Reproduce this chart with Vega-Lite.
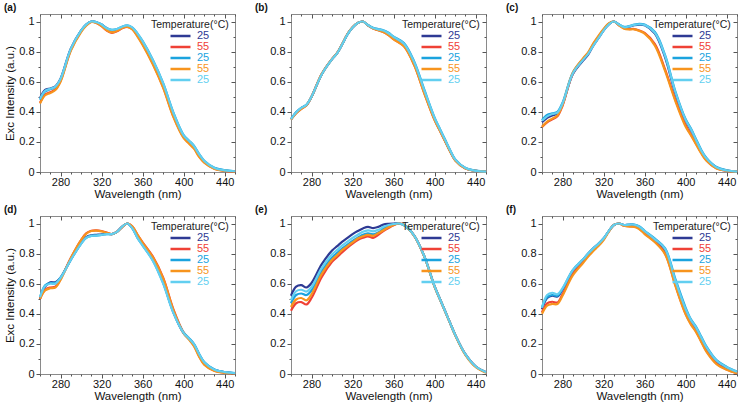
{
"$schema":"https://vega.github.io/schema/vega-lite/v6.json",
"padding":{"left":3,"top":2,"right":2,"bottom":2},
"datasets":{
"a":[
{"s":1,"x":260,"y":0.49},{"s":1,"x":265,"y":0.545},{"s":1,"x":270,"y":0.555},{"s":1,"x":275,"y":0.57},{"s":1,"x":280,"y":0.62},{"s":1,"x":290,"y":0.82},{"s":1,"x":300,"y":0.94},{"s":1,"x":305,"y":0.98},{"s":1,"x":310,"y":1.0},{"s":1,"x":315,"y":0.995},{"s":1,"x":320,"y":0.98},{"s":1,"x":325,"y":0.955},{"s":1,"x":330,"y":0.94},{"s":1,"x":335,"y":0.945},{"s":1,"x":340,"y":0.96},{"s":1,"x":345,"y":0.97},{"s":1,"x":350,"y":0.955},{"s":1,"x":355,"y":0.91},{"s":1,"x":360,"y":0.855},{"s":1,"x":370,"y":0.73},{"s":1,"x":380,"y":0.575},{"s":1,"x":390,"y":0.38},{"s":1,"x":400,"y":0.235},{"s":1,"x":405,"y":0.2},{"s":1,"x":410,"y":0.165},{"s":1,"x":415,"y":0.11},{"s":1,"x":420,"y":0.07},{"s":1,"x":430,"y":0.025},{"s":1,"x":440,"y":0.01},{"s":1,"x":450,"y":0.004},
{"s":2,"x":260,"y":0.46},{"s":2,"x":265,"y":0.515},{"s":2,"x":270,"y":0.53},{"s":2,"x":275,"y":0.55},{"s":2,"x":280,"y":0.605},{"s":2,"x":290,"y":0.81},{"s":2,"x":300,"y":0.935},{"s":2,"x":305,"y":0.975},{"s":2,"x":310,"y":0.998},{"s":2,"x":315,"y":0.99},{"s":2,"x":320,"y":0.97},{"s":2,"x":325,"y":0.94},{"s":2,"x":330,"y":0.925},{"s":2,"x":335,"y":0.935},{"s":2,"x":340,"y":0.955},{"s":2,"x":345,"y":0.965},{"s":2,"x":350,"y":0.95},{"s":2,"x":355,"y":0.905},{"s":2,"x":360,"y":0.85},{"s":2,"x":370,"y":0.72},{"s":2,"x":380,"y":0.565},{"s":2,"x":390,"y":0.37},{"s":2,"x":400,"y":0.23},{"s":2,"x":405,"y":0.195},{"s":2,"x":410,"y":0.16},{"s":2,"x":415,"y":0.105},{"s":2,"x":420,"y":0.065},{"s":2,"x":430,"y":0.022},{"s":2,"x":440,"y":0.008},{"s":2,"x":450,"y":0.003},
{"s":3,"x":260,"y":0.48},{"s":3,"x":265,"y":0.535},{"s":3,"x":270,"y":0.55},{"s":3,"x":275,"y":0.565},{"s":3,"x":280,"y":0.615},{"s":3,"x":290,"y":0.815},{"s":3,"x":300,"y":0.94},{"s":3,"x":305,"y":0.98},{"s":3,"x":310,"y":1.0},{"s":3,"x":315,"y":0.995},{"s":3,"x":320,"y":0.98},{"s":3,"x":325,"y":0.955},{"s":3,"x":330,"y":0.945},{"s":3,"x":335,"y":0.95},{"s":3,"x":340,"y":0.965},{"s":3,"x":345,"y":0.975},{"s":3,"x":350,"y":0.96},{"s":3,"x":355,"y":0.92},{"s":3,"x":360,"y":0.87},{"s":3,"x":370,"y":0.745},{"s":3,"x":380,"y":0.59},{"s":3,"x":390,"y":0.395},{"s":3,"x":400,"y":0.245},{"s":3,"x":405,"y":0.21},{"s":3,"x":410,"y":0.175},{"s":3,"x":415,"y":0.12},{"s":3,"x":420,"y":0.075},{"s":3,"x":430,"y":0.028},{"s":3,"x":440,"y":0.012},{"s":3,"x":450,"y":0.005},
{"s":4,"x":260,"y":0.455},{"s":4,"x":265,"y":0.51},{"s":4,"x":270,"y":0.525},{"s":4,"x":275,"y":0.545},{"s":4,"x":280,"y":0.6},{"s":4,"x":290,"y":0.805},{"s":4,"x":300,"y":0.93},{"s":4,"x":305,"y":0.972},{"s":4,"x":310,"y":0.997},{"s":4,"x":315,"y":0.99},{"s":4,"x":320,"y":0.97},{"s":4,"x":325,"y":0.942},{"s":4,"x":330,"y":0.928},{"s":4,"x":335,"y":0.938},{"s":4,"x":340,"y":0.957},{"s":4,"x":345,"y":0.965},{"s":4,"x":350,"y":0.948},{"s":4,"x":355,"y":0.9},{"s":4,"x":360,"y":0.845},{"s":4,"x":370,"y":0.715},{"s":4,"x":380,"y":0.56},{"s":4,"x":390,"y":0.365},{"s":4,"x":400,"y":0.225},{"s":4,"x":405,"y":0.19},{"s":4,"x":410,"y":0.155},{"s":4,"x":415,"y":0.1},{"s":4,"x":420,"y":0.062},{"s":4,"x":430,"y":0.02},{"s":4,"x":440,"y":0.007},{"s":4,"x":450,"y":0.003},
{"s":5,"x":260,"y":0.485},{"s":5,"x":265,"y":0.54},{"s":5,"x":270,"y":0.553},{"s":5,"x":275,"y":0.568},{"s":5,"x":280,"y":0.618},{"s":5,"x":290,"y":0.818},{"s":5,"x":300,"y":0.94},{"s":5,"x":305,"y":0.98},{"s":5,"x":310,"y":1.0},{"s":5,"x":315,"y":0.995},{"s":5,"x":320,"y":0.98},{"s":5,"x":325,"y":0.955},{"s":5,"x":330,"y":0.944},{"s":5,"x":335,"y":0.95},{"s":5,"x":340,"y":0.965},{"s":5,"x":345,"y":0.975},{"s":5,"x":350,"y":0.96},{"s":5,"x":355,"y":0.92},{"s":5,"x":360,"y":0.868},{"s":5,"x":370,"y":0.742},{"s":5,"x":380,"y":0.588},{"s":5,"x":390,"y":0.392},{"s":5,"x":400,"y":0.242},{"s":5,"x":405,"y":0.208},{"s":5,"x":410,"y":0.172},{"s":5,"x":415,"y":0.118},{"s":5,"x":420,"y":0.074},{"s":5,"x":430,"y":0.027},{"s":5,"x":440,"y":0.011},{"s":5,"x":450,"y":0.005}
],
"b":[
{"s":1,"x":260,"y":0.35},{"s":1,"x":265,"y":0.395},{"s":1,"x":270,"y":0.425},{"s":1,"x":275,"y":0.445},{"s":1,"x":280,"y":0.5},{"s":1,"x":290,"y":0.65},{"s":1,"x":300,"y":0.75},{"s":1,"x":305,"y":0.79},{"s":1,"x":310,"y":0.85},{"s":1,"x":315,"y":0.915},{"s":1,"x":320,"y":0.96},{"s":1,"x":325,"y":0.99},{"s":1,"x":330,"y":1.0},{"s":1,"x":335,"y":0.975},{"s":1,"x":340,"y":0.955},{"s":1,"x":345,"y":0.945},{"s":1,"x":350,"y":0.935},{"s":1,"x":355,"y":0.915},{"s":1,"x":360,"y":0.89},{"s":1,"x":370,"y":0.845},{"s":1,"x":380,"y":0.72},{"s":1,"x":390,"y":0.53},{"s":1,"x":400,"y":0.35},{"s":1,"x":405,"y":0.28},{"s":1,"x":410,"y":0.21},{"s":1,"x":415,"y":0.14},{"s":1,"x":420,"y":0.08},{"s":1,"x":430,"y":0.025},{"s":1,"x":440,"y":0.008},{"s":1,"x":450,"y":0.002},
{"s":2,"x":260,"y":0.35},{"s":2,"x":265,"y":0.39},{"s":2,"x":270,"y":0.42},{"s":2,"x":275,"y":0.442},{"s":2,"x":280,"y":0.5},{"s":2,"x":290,"y":0.652},{"s":2,"x":300,"y":0.752},{"s":2,"x":305,"y":0.792},{"s":2,"x":310,"y":0.852},{"s":2,"x":315,"y":0.917},{"s":2,"x":320,"y":0.962},{"s":2,"x":325,"y":0.99},{"s":2,"x":330,"y":1.0},{"s":2,"x":335,"y":0.974},{"s":2,"x":340,"y":0.953},{"s":2,"x":345,"y":0.942},{"s":2,"x":350,"y":0.93},{"s":2,"x":355,"y":0.91},{"s":2,"x":360,"y":0.883},{"s":2,"x":370,"y":0.837},{"s":2,"x":380,"y":0.712},{"s":2,"x":390,"y":0.522},{"s":2,"x":400,"y":0.345},{"s":2,"x":405,"y":0.276},{"s":2,"x":410,"y":0.207},{"s":2,"x":415,"y":0.138},{"s":2,"x":420,"y":0.078},{"s":2,"x":430,"y":0.024},{"s":2,"x":440,"y":0.007},{"s":2,"x":450,"y":0.002},
{"s":3,"x":260,"y":0.352},{"s":3,"x":265,"y":0.397},{"s":3,"x":270,"y":0.426},{"s":3,"x":275,"y":0.446},{"s":3,"x":280,"y":0.5},{"s":3,"x":290,"y":0.65},{"s":3,"x":300,"y":0.75},{"s":3,"x":305,"y":0.79},{"s":3,"x":310,"y":0.85},{"s":3,"x":315,"y":0.915},{"s":3,"x":320,"y":0.96},{"s":3,"x":325,"y":0.99},{"s":3,"x":330,"y":1.0},{"s":3,"x":335,"y":0.977},{"s":3,"x":340,"y":0.958},{"s":3,"x":345,"y":0.95},{"s":3,"x":350,"y":0.942},{"s":3,"x":355,"y":0.925},{"s":3,"x":360,"y":0.9},{"s":3,"x":370,"y":0.857},{"s":3,"x":380,"y":0.735},{"s":3,"x":390,"y":0.545},{"s":3,"x":400,"y":0.36},{"s":3,"x":405,"y":0.288},{"s":3,"x":410,"y":0.217},{"s":3,"x":415,"y":0.146},{"s":3,"x":420,"y":0.084},{"s":3,"x":430,"y":0.027},{"s":3,"x":440,"y":0.009},{"s":3,"x":450,"y":0.002},
{"s":4,"x":260,"y":0.348},{"s":4,"x":265,"y":0.39},{"s":4,"x":270,"y":0.42},{"s":4,"x":275,"y":0.443},{"s":4,"x":280,"y":0.5},{"s":4,"x":290,"y":0.652},{"s":4,"x":300,"y":0.752},{"s":4,"x":305,"y":0.792},{"s":4,"x":310,"y":0.852},{"s":4,"x":315,"y":0.917},{"s":4,"x":320,"y":0.962},{"s":4,"x":325,"y":0.99},{"s":4,"x":330,"y":1.0},{"s":4,"x":335,"y":0.974},{"s":4,"x":340,"y":0.953},{"s":4,"x":345,"y":0.942},{"s":4,"x":350,"y":0.93},{"s":4,"x":355,"y":0.91},{"s":4,"x":360,"y":0.882},{"s":4,"x":370,"y":0.835},{"s":4,"x":380,"y":0.71},{"s":4,"x":390,"y":0.52},{"s":4,"x":400,"y":0.343},{"s":4,"x":405,"y":0.275},{"s":4,"x":410,"y":0.206},{"s":4,"x":415,"y":0.137},{"s":4,"x":420,"y":0.077},{"s":4,"x":430,"y":0.023},{"s":4,"x":440,"y":0.007},{"s":4,"x":450,"y":0.002},
{"s":5,"x":260,"y":0.352},{"s":5,"x":265,"y":0.396},{"s":5,"x":270,"y":0.426},{"s":5,"x":275,"y":0.446},{"s":5,"x":280,"y":0.5},{"s":5,"x":290,"y":0.65},{"s":5,"x":300,"y":0.75},{"s":5,"x":305,"y":0.79},{"s":5,"x":310,"y":0.85},{"s":5,"x":315,"y":0.915},{"s":5,"x":320,"y":0.96},{"s":5,"x":325,"y":0.99},{"s":5,"x":330,"y":1.0},{"s":5,"x":335,"y":0.976},{"s":5,"x":340,"y":0.957},{"s":5,"x":345,"y":0.948},{"s":5,"x":350,"y":0.94},{"s":5,"x":355,"y":0.922},{"s":5,"x":360,"y":0.897},{"s":5,"x":370,"y":0.853},{"s":5,"x":380,"y":0.73},{"s":5,"x":390,"y":0.54},{"s":5,"x":400,"y":0.357},{"s":5,"x":405,"y":0.286},{"s":5,"x":410,"y":0.215},{"s":5,"x":415,"y":0.144},{"s":5,"x":420,"y":0.083},{"s":5,"x":430,"y":0.026},{"s":5,"x":440,"y":0.008},{"s":5,"x":450,"y":0.002}
],
"c":[
{"s":1,"x":260,"y":0.33},{"s":1,"x":265,"y":0.36},{"s":1,"x":270,"y":0.375},{"s":1,"x":275,"y":0.39},{"s":1,"x":280,"y":0.45},{"s":1,"x":290,"y":0.65},{"s":1,"x":300,"y":0.74},{"s":1,"x":305,"y":0.78},{"s":1,"x":310,"y":0.84},{"s":1,"x":315,"y":0.89},{"s":1,"x":320,"y":0.94},{"s":1,"x":325,"y":0.98},{"s":1,"x":330,"y":1.0},{"s":1,"x":335,"y":0.98},{"s":1,"x":340,"y":0.96},{"s":1,"x":345,"y":0.965},{"s":1,"x":350,"y":0.975},{"s":1,"x":355,"y":0.98},{"s":1,"x":360,"y":0.975},{"s":1,"x":370,"y":0.92},{"s":1,"x":380,"y":0.76},{"s":1,"x":390,"y":0.52},{"s":1,"x":400,"y":0.34},{"s":1,"x":405,"y":0.28},{"s":1,"x":410,"y":0.21},{"s":1,"x":415,"y":0.14},{"s":1,"x":420,"y":0.09},{"s":1,"x":430,"y":0.03},{"s":1,"x":440,"y":0.01},{"s":1,"x":450,"y":0.003},
{"s":2,"x":260,"y":0.3},{"s":2,"x":265,"y":0.33},{"s":2,"x":270,"y":0.35},{"s":2,"x":275,"y":0.37},{"s":2,"x":280,"y":0.44},{"s":2,"x":290,"y":0.655},{"s":2,"x":300,"y":0.75},{"s":2,"x":305,"y":0.79},{"s":2,"x":310,"y":0.85},{"s":2,"x":315,"y":0.9},{"s":2,"x":320,"y":0.945},{"s":2,"x":325,"y":0.985},{"s":2,"x":330,"y":1.0},{"s":2,"x":335,"y":0.975},{"s":2,"x":340,"y":0.955},{"s":2,"x":345,"y":0.95},{"s":2,"x":350,"y":0.95},{"s":2,"x":355,"y":0.94},{"s":2,"x":360,"y":0.925},{"s":2,"x":370,"y":0.85},{"s":2,"x":380,"y":0.68},{"s":2,"x":390,"y":0.48},{"s":2,"x":400,"y":0.31},{"s":2,"x":405,"y":0.25},{"s":2,"x":410,"y":0.19},{"s":2,"x":415,"y":0.13},{"s":2,"x":420,"y":0.08},{"s":2,"x":430,"y":0.025},{"s":2,"x":440,"y":0.008},{"s":2,"x":450,"y":0.002},
{"s":3,"x":260,"y":0.345},{"s":3,"x":265,"y":0.38},{"s":3,"x":270,"y":0.39},{"s":3,"x":275,"y":0.4},{"s":3,"x":280,"y":0.46},{"s":3,"x":290,"y":0.66},{"s":3,"x":300,"y":0.75},{"s":3,"x":305,"y":0.79},{"s":3,"x":310,"y":0.845},{"s":3,"x":315,"y":0.895},{"s":3,"x":320,"y":0.945},{"s":3,"x":325,"y":0.985},{"s":3,"x":330,"y":1.0},{"s":3,"x":335,"y":0.98},{"s":3,"x":340,"y":0.965},{"s":3,"x":345,"y":0.97},{"s":3,"x":350,"y":0.98},{"s":3,"x":355,"y":0.985},{"s":3,"x":360,"y":0.98},{"s":3,"x":370,"y":0.93},{"s":3,"x":380,"y":0.775},{"s":3,"x":390,"y":0.535},{"s":3,"x":400,"y":0.35},{"s":3,"x":405,"y":0.29},{"s":3,"x":410,"y":0.22},{"s":3,"x":415,"y":0.15},{"s":3,"x":420,"y":0.095},{"s":3,"x":430,"y":0.033},{"s":3,"x":440,"y":0.011},{"s":3,"x":450,"y":0.003},
{"s":4,"x":260,"y":0.3},{"s":4,"x":265,"y":0.335},{"s":4,"x":270,"y":0.355},{"s":4,"x":275,"y":0.375},{"s":4,"x":280,"y":0.445},{"s":4,"x":290,"y":0.66},{"s":4,"x":300,"y":0.755},{"s":4,"x":305,"y":0.795},{"s":4,"x":310,"y":0.855},{"s":4,"x":315,"y":0.905},{"s":4,"x":320,"y":0.95},{"s":4,"x":325,"y":0.988},{"s":4,"x":330,"y":1.0},{"s":4,"x":335,"y":0.975},{"s":4,"x":340,"y":0.953},{"s":4,"x":345,"y":0.948},{"s":4,"x":350,"y":0.948},{"s":4,"x":355,"y":0.937},{"s":4,"x":360,"y":0.92},{"s":4,"x":370,"y":0.84},{"s":4,"x":380,"y":0.67},{"s":4,"x":390,"y":0.47},{"s":4,"x":400,"y":0.3},{"s":4,"x":405,"y":0.245},{"s":4,"x":410,"y":0.185},{"s":4,"x":415,"y":0.125},{"s":4,"x":420,"y":0.077},{"s":4,"x":430,"y":0.024},{"s":4,"x":440,"y":0.008},{"s":4,"x":450,"y":0.002},
{"s":5,"x":260,"y":0.34},{"s":5,"x":265,"y":0.37},{"s":5,"x":270,"y":0.385},{"s":5,"x":275,"y":0.395},{"s":5,"x":280,"y":0.455},{"s":5,"x":290,"y":0.655},{"s":5,"x":300,"y":0.745},{"s":5,"x":305,"y":0.785},{"s":5,"x":310,"y":0.84},{"s":5,"x":315,"y":0.89},{"s":5,"x":320,"y":0.94},{"s":5,"x":325,"y":0.98},{"s":5,"x":330,"y":1.0},{"s":5,"x":335,"y":0.98},{"s":5,"x":340,"y":0.962},{"s":5,"x":345,"y":0.968},{"s":5,"x":350,"y":0.978},{"s":5,"x":355,"y":0.982},{"s":5,"x":360,"y":0.977},{"s":5,"x":370,"y":0.925},{"s":5,"x":380,"y":0.77},{"s":5,"x":390,"y":0.53},{"s":5,"x":400,"y":0.345},{"s":5,"x":405,"y":0.285},{"s":5,"x":410,"y":0.215},{"s":5,"x":415,"y":0.145},{"s":5,"x":420,"y":0.092},{"s":5,"x":430,"y":0.031},{"s":5,"x":440,"y":0.01},{"s":5,"x":450,"y":0.003}
],
"d":[
{"s":1,"x":260,"y":0.5},{"s":1,"x":265,"y":0.58},{"s":1,"x":270,"y":0.61},{"s":1,"x":275,"y":0.61},{"s":1,"x":280,"y":0.64},{"s":1,"x":290,"y":0.76},{"s":1,"x":300,"y":0.87},{"s":1,"x":305,"y":0.91},{"s":1,"x":310,"y":0.922},{"s":1,"x":315,"y":0.925},{"s":1,"x":320,"y":0.928},{"s":1,"x":325,"y":0.932},{"s":1,"x":330,"y":0.93},{"s":1,"x":335,"y":0.945},{"s":1,"x":340,"y":0.98},{"s":1,"x":345,"y":1.0},{"s":1,"x":350,"y":0.97},{"s":1,"x":355,"y":0.91},{"s":1,"x":360,"y":0.86},{"s":1,"x":370,"y":0.76},{"s":1,"x":380,"y":0.61},{"s":1,"x":390,"y":0.41},{"s":1,"x":400,"y":0.27},{"s":1,"x":405,"y":0.235},{"s":1,"x":410,"y":0.195},{"s":1,"x":415,"y":0.13},{"s":1,"x":420,"y":0.075},{"s":1,"x":430,"y":0.028},{"s":1,"x":440,"y":0.012},{"s":1,"x":450,"y":0.005},
{"s":2,"x":260,"y":0.5},{"s":2,"x":265,"y":0.56},{"s":2,"x":270,"y":0.575},{"s":2,"x":275,"y":0.58},{"s":2,"x":280,"y":0.63},{"s":2,"x":290,"y":0.77},{"s":2,"x":300,"y":0.89},{"s":2,"x":305,"y":0.935},{"s":2,"x":310,"y":0.952},{"s":2,"x":315,"y":0.955},{"s":2,"x":320,"y":0.95},{"s":2,"x":325,"y":0.94},{"s":2,"x":330,"y":0.93},{"s":2,"x":335,"y":0.945},{"s":2,"x":340,"y":0.975},{"s":2,"x":345,"y":1.0},{"s":2,"x":350,"y":0.98},{"s":2,"x":355,"y":0.925},{"s":2,"x":360,"y":0.875},{"s":2,"x":370,"y":0.78},{"s":2,"x":380,"y":0.64},{"s":2,"x":390,"y":0.43},{"s":2,"x":400,"y":0.275},{"s":2,"x":405,"y":0.235},{"s":2,"x":410,"y":0.19},{"s":2,"x":415,"y":0.12},{"s":2,"x":420,"y":0.065},{"s":2,"x":430,"y":0.022},{"s":2,"x":440,"y":0.009},{"s":2,"x":450,"y":0.004},
{"s":3,"x":260,"y":0.51},{"s":3,"x":265,"y":0.59},{"s":3,"x":270,"y":0.605},{"s":3,"x":275,"y":0.605},{"s":3,"x":280,"y":0.64},{"s":3,"x":290,"y":0.76},{"s":3,"x":300,"y":0.865},{"s":3,"x":305,"y":0.905},{"s":3,"x":310,"y":0.918},{"s":3,"x":315,"y":0.92},{"s":3,"x":320,"y":0.925},{"s":3,"x":325,"y":0.93},{"s":3,"x":330,"y":0.93},{"s":3,"x":335,"y":0.945},{"s":3,"x":340,"y":0.978},{"s":3,"x":345,"y":1.0},{"s":3,"x":350,"y":0.968},{"s":3,"x":355,"y":0.905},{"s":3,"x":360,"y":0.855},{"s":3,"x":370,"y":0.755},{"s":3,"x":380,"y":0.605},{"s":3,"x":390,"y":0.41},{"s":3,"x":400,"y":0.275},{"s":3,"x":405,"y":0.24},{"s":3,"x":410,"y":0.2},{"s":3,"x":415,"y":0.135},{"s":3,"x":420,"y":0.08},{"s":3,"x":430,"y":0.03},{"s":3,"x":440,"y":0.013},{"s":3,"x":450,"y":0.006},
{"s":4,"x":260,"y":0.5},{"s":4,"x":265,"y":0.555},{"s":4,"x":270,"y":0.57},{"s":4,"x":275,"y":0.575},{"s":4,"x":280,"y":0.625},{"s":4,"x":290,"y":0.77},{"s":4,"x":300,"y":0.89},{"s":4,"x":305,"y":0.932},{"s":4,"x":310,"y":0.95},{"s":4,"x":315,"y":0.953},{"s":4,"x":320,"y":0.948},{"s":4,"x":325,"y":0.938},{"s":4,"x":330,"y":0.93},{"s":4,"x":335,"y":0.945},{"s":4,"x":340,"y":0.976},{"s":4,"x":345,"y":1.0},{"s":4,"x":350,"y":0.98},{"s":4,"x":355,"y":0.925},{"s":4,"x":360,"y":0.872},{"s":4,"x":370,"y":0.775},{"s":4,"x":380,"y":0.635},{"s":4,"x":390,"y":0.425},{"s":4,"x":400,"y":0.27},{"s":4,"x":405,"y":0.23},{"s":4,"x":410,"y":0.185},{"s":4,"x":415,"y":0.115},{"s":4,"x":420,"y":0.062},{"s":4,"x":430,"y":0.02},{"s":4,"x":440,"y":0.008},{"s":4,"x":450,"y":0.004},
{"s":5,"x":260,"y":0.51},{"s":5,"x":265,"y":0.585},{"s":5,"x":270,"y":0.6},{"s":5,"x":275,"y":0.6},{"s":5,"x":280,"y":0.638},{"s":5,"x":290,"y":0.758},{"s":5,"x":300,"y":0.865},{"s":5,"x":305,"y":0.905},{"s":5,"x":310,"y":0.918},{"s":5,"x":315,"y":0.92},{"s":5,"x":320,"y":0.925},{"s":5,"x":325,"y":0.93},{"s":5,"x":330,"y":0.93},{"s":5,"x":335,"y":0.945},{"s":5,"x":340,"y":0.978},{"s":5,"x":345,"y":1.0},{"s":5,"x":350,"y":0.968},{"s":5,"x":355,"y":0.905},{"s":5,"x":360,"y":0.853},{"s":5,"x":370,"y":0.752},{"s":5,"x":380,"y":0.6},{"s":5,"x":390,"y":0.405},{"s":5,"x":400,"y":0.272},{"s":5,"x":405,"y":0.238},{"s":5,"x":410,"y":0.198},{"s":5,"x":415,"y":0.133},{"s":5,"x":420,"y":0.078},{"s":5,"x":430,"y":0.029},{"s":5,"x":440,"y":0.013},{"s":5,"x":450,"y":0.006}
],
"e":[
{"s":1,"x":260,"y":0.52},{"s":1,"x":265,"y":0.58},{"s":1,"x":270,"y":0.59},{"s":1,"x":275,"y":0.575},{"s":1,"x":280,"y":0.605},{"s":1,"x":290,"y":0.73},{"s":1,"x":300,"y":0.82},{"s":1,"x":305,"y":0.85},{"s":1,"x":310,"y":0.88},{"s":1,"x":315,"y":0.905},{"s":1,"x":320,"y":0.93},{"s":1,"x":325,"y":0.95},{"s":1,"x":330,"y":0.967},{"s":1,"x":335,"y":0.978},{"s":1,"x":340,"y":0.97},{"s":1,"x":345,"y":0.978},{"s":1,"x":350,"y":0.993},{"s":1,"x":355,"y":0.998},{"s":1,"x":360,"y":1.0},{"s":1,"x":365,"y":1.0},{"s":1,"x":370,"y":0.99},{"s":1,"x":380,"y":0.92},{"s":1,"x":390,"y":0.78},{"s":1,"x":400,"y":0.58},{"s":1,"x":405,"y":0.5},{"s":1,"x":410,"y":0.42},{"s":1,"x":415,"y":0.34},{"s":1,"x":420,"y":0.26},{"s":1,"x":430,"y":0.13},{"s":1,"x":440,"y":0.05},{"s":1,"x":450,"y":0.012},
{"s":2,"x":260,"y":0.42},{"s":2,"x":265,"y":0.47},{"s":2,"x":270,"y":0.478},{"s":2,"x":275,"y":0.462},{"s":2,"x":280,"y":0.505},{"s":2,"x":290,"y":0.645},{"s":2,"x":300,"y":0.745},{"s":2,"x":305,"y":0.778},{"s":2,"x":310,"y":0.81},{"s":2,"x":315,"y":0.84},{"s":2,"x":320,"y":0.867},{"s":2,"x":325,"y":0.89},{"s":2,"x":330,"y":0.905},{"s":2,"x":335,"y":0.915},{"s":2,"x":340,"y":0.905},{"s":2,"x":345,"y":0.925},{"s":2,"x":350,"y":0.95},{"s":2,"x":355,"y":0.97},{"s":2,"x":360,"y":0.988},{"s":2,"x":365,"y":1.0},{"s":2,"x":370,"y":0.992},{"s":2,"x":380,"y":0.92},{"s":2,"x":390,"y":0.78},{"s":2,"x":400,"y":0.58},{"s":2,"x":405,"y":0.5},{"s":2,"x":410,"y":0.42},{"s":2,"x":415,"y":0.34},{"s":2,"x":420,"y":0.26},{"s":2,"x":430,"y":0.13},{"s":2,"x":440,"y":0.05},{"s":2,"x":450,"y":0.012},
{"s":3,"x":260,"y":0.47},{"s":3,"x":265,"y":0.525},{"s":3,"x":270,"y":0.535},{"s":3,"x":275,"y":0.525},{"s":3,"x":280,"y":0.555},{"s":3,"x":290,"y":0.685},{"s":3,"x":300,"y":0.775},{"s":3,"x":305,"y":0.805},{"s":3,"x":310,"y":0.835},{"s":3,"x":315,"y":0.86},{"s":3,"x":320,"y":0.885},{"s":3,"x":325,"y":0.905},{"s":3,"x":330,"y":0.925},{"s":3,"x":335,"y":0.935},{"s":3,"x":340,"y":0.928},{"s":3,"x":345,"y":0.94},{"s":3,"x":350,"y":0.965},{"s":3,"x":355,"y":0.982},{"s":3,"x":360,"y":0.994},{"s":3,"x":365,"y":1.0},{"s":3,"x":370,"y":0.99},{"s":3,"x":380,"y":0.92},{"s":3,"x":390,"y":0.78},{"s":3,"x":400,"y":0.58},{"s":3,"x":405,"y":0.5},{"s":3,"x":410,"y":0.42},{"s":3,"x":415,"y":0.34},{"s":3,"x":420,"y":0.26},{"s":3,"x":430,"y":0.13},{"s":3,"x":440,"y":0.05},{"s":3,"x":450,"y":0.012},
{"s":4,"x":260,"y":0.445},{"s":4,"x":265,"y":0.495},{"s":4,"x":270,"y":0.505},{"s":4,"x":275,"y":0.49},{"s":4,"x":280,"y":0.53},{"s":4,"x":290,"y":0.665},{"s":4,"x":300,"y":0.76},{"s":4,"x":305,"y":0.79},{"s":4,"x":310,"y":0.825},{"s":4,"x":315,"y":0.85},{"s":4,"x":320,"y":0.875},{"s":4,"x":325,"y":0.9},{"s":4,"x":330,"y":0.915},{"s":4,"x":335,"y":0.925},{"s":4,"x":340,"y":0.918},{"s":4,"x":345,"y":0.935},{"s":4,"x":350,"y":0.955},{"s":4,"x":355,"y":0.975},{"s":4,"x":360,"y":0.99},{"s":4,"x":365,"y":1.0},{"s":4,"x":370,"y":0.99},{"s":4,"x":380,"y":0.918},{"s":4,"x":390,"y":0.778},{"s":4,"x":400,"y":0.578},{"s":4,"x":405,"y":0.498},{"s":4,"x":410,"y":0.418},{"s":4,"x":415,"y":0.338},{"s":4,"x":420,"y":0.257},{"s":4,"x":430,"y":0.126},{"s":4,"x":440,"y":0.046},{"s":4,"x":450,"y":0.009},
{"s":5,"x":260,"y":0.49},{"s":5,"x":265,"y":0.55},{"s":5,"x":270,"y":0.56},{"s":5,"x":275,"y":0.548},{"s":5,"x":280,"y":0.578},{"s":5,"x":290,"y":0.705},{"s":5,"x":300,"y":0.795},{"s":5,"x":305,"y":0.825},{"s":5,"x":310,"y":0.855},{"s":5,"x":315,"y":0.88},{"s":5,"x":320,"y":0.905},{"s":5,"x":325,"y":0.925},{"s":5,"x":330,"y":0.945},{"s":5,"x":335,"y":0.955},{"s":5,"x":340,"y":0.948},{"s":5,"x":345,"y":0.958},{"s":5,"x":350,"y":0.978},{"s":5,"x":355,"y":0.99},{"s":5,"x":360,"y":0.997},{"s":5,"x":365,"y":1.0},{"s":5,"x":370,"y":0.99},{"s":5,"x":380,"y":0.92},{"s":5,"x":390,"y":0.78},{"s":5,"x":400,"y":0.58},{"s":5,"x":405,"y":0.5},{"s":5,"x":410,"y":0.42},{"s":5,"x":415,"y":0.34},{"s":5,"x":420,"y":0.26},{"s":5,"x":430,"y":0.13},{"s":5,"x":440,"y":0.05},{"s":5,"x":450,"y":0.012}
],
"f":[
{"s":1,"x":260,"y":0.43},{"s":1,"x":265,"y":0.505},{"s":1,"x":270,"y":0.52},{"s":1,"x":275,"y":0.515},{"s":1,"x":280,"y":0.56},{"s":1,"x":290,"y":0.685},{"s":1,"x":300,"y":0.76},{"s":1,"x":305,"y":0.8},{"s":1,"x":310,"y":0.835},{"s":1,"x":315,"y":0.865},{"s":1,"x":320,"y":0.9},{"s":1,"x":325,"y":0.948},{"s":1,"x":330,"y":0.99},{"s":1,"x":335,"y":1.0},{"s":1,"x":340,"y":0.99},{"s":1,"x":345,"y":0.992},{"s":1,"x":350,"y":0.99},{"s":1,"x":355,"y":0.975},{"s":1,"x":360,"y":0.94},{"s":1,"x":370,"y":0.885},{"s":1,"x":380,"y":0.815},{"s":1,"x":390,"y":0.605},{"s":1,"x":400,"y":0.415},{"s":1,"x":405,"y":0.35},{"s":1,"x":410,"y":0.3},{"s":1,"x":415,"y":0.235},{"s":1,"x":420,"y":0.17},{"s":1,"x":430,"y":0.082},{"s":1,"x":440,"y":0.04},{"s":1,"x":450,"y":0.012},
{"s":2,"x":260,"y":0.41},{"s":2,"x":265,"y":0.47},{"s":2,"x":270,"y":0.48},{"s":2,"x":275,"y":0.475},{"s":2,"x":280,"y":0.53},{"s":2,"x":290,"y":0.665},{"s":2,"x":300,"y":0.745},{"s":2,"x":305,"y":0.785},{"s":2,"x":310,"y":0.822},{"s":2,"x":315,"y":0.855},{"s":2,"x":320,"y":0.895},{"s":2,"x":325,"y":0.948},{"s":2,"x":330,"y":0.99},{"s":2,"x":335,"y":1.0},{"s":2,"x":340,"y":0.985},{"s":2,"x":345,"y":0.982},{"s":2,"x":350,"y":0.98},{"s":2,"x":355,"y":0.965},{"s":2,"x":360,"y":0.935},{"s":2,"x":370,"y":0.88},{"s":2,"x":380,"y":0.8},{"s":2,"x":390,"y":0.59},{"s":2,"x":400,"y":0.4},{"s":2,"x":405,"y":0.335},{"s":2,"x":410,"y":0.285},{"s":2,"x":415,"y":0.22},{"s":2,"x":420,"y":0.155},{"s":2,"x":430,"y":0.07},{"s":2,"x":440,"y":0.03},{"s":2,"x":450,"y":0.006},
{"s":3,"x":260,"y":0.445},{"s":3,"x":265,"y":0.51},{"s":3,"x":270,"y":0.525},{"s":3,"x":275,"y":0.52},{"s":3,"x":280,"y":0.565},{"s":3,"x":290,"y":0.69},{"s":3,"x":300,"y":0.762},{"s":3,"x":305,"y":0.8},{"s":3,"x":310,"y":0.835},{"s":3,"x":315,"y":0.865},{"s":3,"x":320,"y":0.9},{"s":3,"x":325,"y":0.95},{"s":3,"x":330,"y":0.99},{"s":3,"x":335,"y":1.0},{"s":3,"x":340,"y":0.99},{"s":3,"x":345,"y":0.993},{"s":3,"x":350,"y":0.993},{"s":3,"x":355,"y":0.98},{"s":3,"x":360,"y":0.952},{"s":3,"x":370,"y":0.9},{"s":3,"x":380,"y":0.835},{"s":3,"x":390,"y":0.63},{"s":3,"x":400,"y":0.44},{"s":3,"x":405,"y":0.365},{"s":3,"x":410,"y":0.315},{"s":3,"x":415,"y":0.25},{"s":3,"x":420,"y":0.185},{"s":3,"x":430,"y":0.092},{"s":3,"x":440,"y":0.047},{"s":3,"x":450,"y":0.016},
{"s":4,"x":260,"y":0.4},{"s":4,"x":265,"y":0.455},{"s":4,"x":270,"y":0.465},{"s":4,"x":275,"y":0.465},{"s":4,"x":280,"y":0.52},{"s":4,"x":290,"y":0.655},{"s":4,"x":300,"y":0.738},{"s":4,"x":305,"y":0.78},{"s":4,"x":310,"y":0.818},{"s":4,"x":315,"y":0.85},{"s":4,"x":320,"y":0.89},{"s":4,"x":325,"y":0.945},{"s":4,"x":330,"y":0.99},{"s":4,"x":335,"y":1.0},{"s":4,"x":340,"y":0.985},{"s":4,"x":345,"y":0.98},{"s":4,"x":350,"y":0.978},{"s":4,"x":355,"y":0.962},{"s":4,"x":360,"y":0.93},{"s":4,"x":370,"y":0.875},{"s":4,"x":380,"y":0.795},{"s":4,"x":390,"y":0.585},{"s":4,"x":400,"y":0.395},{"s":4,"x":405,"y":0.33},{"s":4,"x":410,"y":0.28},{"s":4,"x":415,"y":0.215},{"s":4,"x":420,"y":0.15},{"s":4,"x":430,"y":0.066},{"s":4,"x":440,"y":0.028},{"s":4,"x":450,"y":0.005},
{"s":5,"x":260,"y":0.44},{"s":5,"x":265,"y":0.525},{"s":5,"x":270,"y":0.54},{"s":5,"x":275,"y":0.53},{"s":5,"x":280,"y":0.57},{"s":5,"x":290,"y":0.69},{"s":5,"x":300,"y":0.762},{"s":5,"x":305,"y":0.8},{"s":5,"x":310,"y":0.835},{"s":5,"x":315,"y":0.865},{"s":5,"x":320,"y":0.9},{"s":5,"x":325,"y":0.95},{"s":5,"x":330,"y":0.99},{"s":5,"x":335,"y":1.0},{"s":5,"x":340,"y":0.99},{"s":5,"x":345,"y":0.993},{"s":5,"x":350,"y":0.992},{"s":5,"x":355,"y":0.978},{"s":5,"x":360,"y":0.95},{"s":5,"x":370,"y":0.895},{"s":5,"x":380,"y":0.83},{"s":5,"x":390,"y":0.62},{"s":5,"x":400,"y":0.43},{"s":5,"x":405,"y":0.36},{"s":5,"x":410,"y":0.31},{"s":5,"x":415,"y":0.245},{"s":5,"x":420,"y":0.18},{"s":5,"x":430,"y":0.09},{"s":5,"x":440,"y":0.045},{"s":5,"x":450,"y":0.015}
]
},
"columns":3,
"bounds":"flush",
"spacing":{"row":44,"column":56},
"resolve":{"legend":{"color":"independent"}},
"concat":[
{"width":195,"height":158,"title":{"text":"(a)"},"data":{"name":"a"},"resolve":{"axis":{"x":"independent","y":"independent"}},"layer":[
{"mark":{"type":"line","interpolate":"catmull-rom","strokeWidth":2.2},"encoding":{"x":{"field":"x","type":"quantitative","scale":{"domain":[260,450],"nice":false,"zero":false},"axis":{"title":"Wavelength (nm)","values":[260,270,280,290,300,310,320,330,340,350,360,370,380,390,400,410,420,430,440,450],"labelExpr":"datum.value % 40 == 0 ? datum.label : ''","tickSize":{"condition":{"test":"datum.value % 40 == 0","value":4},"value":2},"labelOverlap":false}},"y":{"field":"y","type":"quantitative","scale":{"domain":[0,1.05],"nice":false},"axis":{"title":"Exc Intensity (a.u.)","values":[0,0.1,0.2,0.3,0.4,0.5,0.6,0.7,0.8,0.9,1],"labelExpr":"round(datum.value*10) % 2 == 0 ? format(datum.value,'~g') : ''","tickSize":{"condition":{"test":"round(datum.value*10) % 2 == 0","value":4},"value":2},"labelOverlap":false}},"color":{"field":"s","type":"nominal","scale":{"domain":[1,2,3,4,5],"range":["#2E3A94","#EF4136","#1BA3DE","#F7941D","#62CFF0"]},"legend":{"title":"Temperature(°C)","labelExpr":"datum.value % 2 == 0 ? '55' : '25'"}}}},
{"mark":{"type":"line","opacity":0},"encoding":{"x":{"field":"x","type":"quantitative","axis":{"orient":"top","title":null,"labels":false,"values":[260,270,280,290,300,310,320,330,340,350,360,370,380,390,400,410,420,430,440,450],"tickSize":{"condition":{"test":"datum.value % 40 == 0","value":-4},"value":-2}}},"y":{"field":"y","type":"quantitative","axis":{"orient":"right","title":null,"labels":false,"values":[0,0.1,0.2,0.3,0.4,0.5,0.6,0.7,0.8,0.9,1],"tickSize":{"condition":{"test":"round(datum.value*10) % 2 == 0","value":-4},"value":-2}}}}}]},
{"width":195,"height":158,"title":{"text":"(b)"},"data":{"name":"b"},"resolve":{"axis":{"x":"independent","y":"independent"}},"layer":[
{"mark":{"type":"line","interpolate":"catmull-rom","strokeWidth":2.2},"encoding":{"x":{"field":"x","type":"quantitative","scale":{"domain":[260,450],"nice":false,"zero":false},"axis":{"title":"Wavelength (nm)","values":[260,270,280,290,300,310,320,330,340,350,360,370,380,390,400,410,420,430,440,450],"labelExpr":"datum.value % 40 == 0 ? datum.label : ''","tickSize":{"condition":{"test":"datum.value % 40 == 0","value":4},"value":2},"labelOverlap":false}},"y":{"field":"y","type":"quantitative","scale":{"domain":[0,1.05],"nice":false},"axis":{"title":null,"values":[0,0.1,0.2,0.3,0.4,0.5,0.6,0.7,0.8,0.9,1],"labelExpr":"round(datum.value*10) % 2 == 0 ? format(datum.value,'~g') : ''","tickSize":{"condition":{"test":"round(datum.value*10) % 2 == 0","value":4},"value":2},"labelOverlap":false}},"color":{"field":"s","type":"nominal","scale":{"domain":[1,2,3,4,5],"range":["#2E3A94","#EF4136","#1BA3DE","#F7941D","#62CFF0"]},"legend":{"title":"Temperature(°C)","labelExpr":"datum.value % 2 == 0 ? '55' : '25'"}}}},
{"mark":{"type":"line","opacity":0},"encoding":{"x":{"field":"x","type":"quantitative","axis":{"orient":"top","title":null,"labels":false,"values":[260,270,280,290,300,310,320,330,340,350,360,370,380,390,400,410,420,430,440,450],"tickSize":{"condition":{"test":"datum.value % 40 == 0","value":-4},"value":-2}}},"y":{"field":"y","type":"quantitative","axis":{"orient":"right","title":null,"labels":false,"values":[0,0.1,0.2,0.3,0.4,0.5,0.6,0.7,0.8,0.9,1],"tickSize":{"condition":{"test":"round(datum.value*10) % 2 == 0","value":-4},"value":-2}}}}}]},
{"width":195,"height":158,"title":{"text":"(c)"},"data":{"name":"c"},"resolve":{"axis":{"x":"independent","y":"independent"}},"layer":[
{"mark":{"type":"line","interpolate":"catmull-rom","strokeWidth":2.2},"encoding":{"x":{"field":"x","type":"quantitative","scale":{"domain":[260,450],"nice":false,"zero":false},"axis":{"title":"Wavelength (nm)","values":[260,270,280,290,300,310,320,330,340,350,360,370,380,390,400,410,420,430,440,450],"labelExpr":"datum.value % 40 == 0 ? datum.label : ''","tickSize":{"condition":{"test":"datum.value % 40 == 0","value":4},"value":2},"labelOverlap":false}},"y":{"field":"y","type":"quantitative","scale":{"domain":[0,1.05],"nice":false},"axis":{"title":null,"values":[0,0.1,0.2,0.3,0.4,0.5,0.6,0.7,0.8,0.9,1],"labelExpr":"round(datum.value*10) % 2 == 0 ? format(datum.value,'~g') : ''","tickSize":{"condition":{"test":"round(datum.value*10) % 2 == 0","value":4},"value":2},"labelOverlap":false}},"color":{"field":"s","type":"nominal","scale":{"domain":[1,2,3,4,5],"range":["#2E3A94","#EF4136","#1BA3DE","#F7941D","#62CFF0"]},"legend":{"title":"Temperature(°C)","labelExpr":"datum.value % 2 == 0 ? '55' : '25'"}}}},
{"mark":{"type":"line","opacity":0},"encoding":{"x":{"field":"x","type":"quantitative","axis":{"orient":"top","title":null,"labels":false,"values":[260,270,280,290,300,310,320,330,340,350,360,370,380,390,400,410,420,430,440,450],"tickSize":{"condition":{"test":"datum.value % 40 == 0","value":-4},"value":-2}}},"y":{"field":"y","type":"quantitative","axis":{"orient":"right","title":null,"labels":false,"values":[0,0.1,0.2,0.3,0.4,0.5,0.6,0.7,0.8,0.9,1],"tickSize":{"condition":{"test":"round(datum.value*10) % 2 == 0","value":-4},"value":-2}}}}}]},
{"width":195,"height":158,"title":{"text":"(d)"},"data":{"name":"d"},"resolve":{"axis":{"x":"independent","y":"independent"}},"layer":[
{"mark":{"type":"line","interpolate":"catmull-rom","strokeWidth":2.2},"encoding":{"x":{"field":"x","type":"quantitative","scale":{"domain":[260,450],"nice":false,"zero":false},"axis":{"title":"Wavelength (nm)","values":[260,270,280,290,300,310,320,330,340,350,360,370,380,390,400,410,420,430,440,450],"labelExpr":"datum.value % 40 == 0 ? datum.label : ''","tickSize":{"condition":{"test":"datum.value % 40 == 0","value":4},"value":2},"labelOverlap":false}},"y":{"field":"y","type":"quantitative","scale":{"domain":[0,1.05],"nice":false},"axis":{"title":"Exc Intensity (a.u.)","values":[0,0.1,0.2,0.3,0.4,0.5,0.6,0.7,0.8,0.9,1],"labelExpr":"round(datum.value*10) % 2 == 0 ? format(datum.value,'~g') : ''","tickSize":{"condition":{"test":"round(datum.value*10) % 2 == 0","value":4},"value":2},"labelOverlap":false}},"color":{"field":"s","type":"nominal","scale":{"domain":[1,2,3,4,5],"range":["#2E3A94","#EF4136","#1BA3DE","#F7941D","#62CFF0"]},"legend":{"title":"Temperature(°C)","labelExpr":"datum.value % 2 == 0 ? '55' : '25'"}}}},
{"mark":{"type":"line","opacity":0},"encoding":{"x":{"field":"x","type":"quantitative","axis":{"orient":"top","title":null,"labels":false,"values":[260,270,280,290,300,310,320,330,340,350,360,370,380,390,400,410,420,430,440,450],"tickSize":{"condition":{"test":"datum.value % 40 == 0","value":-4},"value":-2}}},"y":{"field":"y","type":"quantitative","axis":{"orient":"right","title":null,"labels":false,"values":[0,0.1,0.2,0.3,0.4,0.5,0.6,0.7,0.8,0.9,1],"tickSize":{"condition":{"test":"round(datum.value*10) % 2 == 0","value":-4},"value":-2}}}}}]},
{"width":195,"height":158,"title":{"text":"(e)"},"data":{"name":"e"},"resolve":{"axis":{"x":"independent","y":"independent"}},"layer":[
{"mark":{"type":"line","interpolate":"catmull-rom","strokeWidth":2.2},"encoding":{"x":{"field":"x","type":"quantitative","scale":{"domain":[260,450],"nice":false,"zero":false},"axis":{"title":"Wavelength (nm)","values":[260,270,280,290,300,310,320,330,340,350,360,370,380,390,400,410,420,430,440,450],"labelExpr":"datum.value % 40 == 0 ? datum.label : ''","tickSize":{"condition":{"test":"datum.value % 40 == 0","value":4},"value":2},"labelOverlap":false}},"y":{"field":"y","type":"quantitative","scale":{"domain":[0,1.05],"nice":false},"axis":{"title":null,"values":[0,0.1,0.2,0.3,0.4,0.5,0.6,0.7,0.8,0.9,1],"labelExpr":"round(datum.value*10) % 2 == 0 ? format(datum.value,'~g') : ''","tickSize":{"condition":{"test":"round(datum.value*10) % 2 == 0","value":4},"value":2},"labelOverlap":false}},"color":{"field":"s","type":"nominal","scale":{"domain":[1,2,3,4,5],"range":["#2E3A94","#EF4136","#1BA3DE","#F7941D","#62CFF0"]},"legend":{"title":"Temperature(°C)","labelExpr":"datum.value % 2 == 0 ? '55' : '25'"}}}},
{"mark":{"type":"line","opacity":0},"encoding":{"x":{"field":"x","type":"quantitative","axis":{"orient":"top","title":null,"labels":false,"values":[260,270,280,290,300,310,320,330,340,350,360,370,380,390,400,410,420,430,440,450],"tickSize":{"condition":{"test":"datum.value % 40 == 0","value":-4},"value":-2}}},"y":{"field":"y","type":"quantitative","axis":{"orient":"right","title":null,"labels":false,"values":[0,0.1,0.2,0.3,0.4,0.5,0.6,0.7,0.8,0.9,1],"tickSize":{"condition":{"test":"round(datum.value*10) % 2 == 0","value":-4},"value":-2}}}}}]},
{"width":195,"height":158,"title":{"text":"(f)"},"data":{"name":"f"},"resolve":{"axis":{"x":"independent","y":"independent"}},"layer":[
{"mark":{"type":"line","interpolate":"catmull-rom","strokeWidth":2.2},"encoding":{"x":{"field":"x","type":"quantitative","scale":{"domain":[260,450],"nice":false,"zero":false},"axis":{"title":"Wavelength (nm)","values":[260,270,280,290,300,310,320,330,340,350,360,370,380,390,400,410,420,430,440,450],"labelExpr":"datum.value % 40 == 0 ? datum.label : ''","tickSize":{"condition":{"test":"datum.value % 40 == 0","value":4},"value":2},"labelOverlap":false}},"y":{"field":"y","type":"quantitative","scale":{"domain":[0,1.05],"nice":false},"axis":{"title":null,"values":[0,0.1,0.2,0.3,0.4,0.5,0.6,0.7,0.8,0.9,1],"labelExpr":"round(datum.value*10) % 2 == 0 ? format(datum.value,'~g') : ''","tickSize":{"condition":{"test":"round(datum.value*10) % 2 == 0","value":4},"value":2},"labelOverlap":false}},"color":{"field":"s","type":"nominal","scale":{"domain":[1,2,3,4,5],"range":["#2E3A94","#EF4136","#1BA3DE","#F7941D","#62CFF0"]},"legend":{"title":"Temperature(°C)","labelExpr":"datum.value % 2 == 0 ? '55' : '25'"}}}},
{"mark":{"type":"line","opacity":0},"encoding":{"x":{"field":"x","type":"quantitative","axis":{"orient":"top","title":null,"labels":false,"values":[260,270,280,290,300,310,320,330,340,350,360,370,380,390,400,410,420,430,440,450],"tickSize":{"condition":{"test":"datum.value % 40 == 0","value":-4},"value":-2}}},"y":{"field":"y","type":"quantitative","axis":{"orient":"right","title":null,"labels":false,"values":[0,0.1,0.2,0.3,0.4,0.5,0.6,0.7,0.8,0.9,1],"tickSize":{"condition":{"test":"round(datum.value*10) % 2 == 0","value":-4},"value":-2}}}}}]}
],
"config":{
"font":"Liberation Sans",
"view":{"stroke":"#8a8a8a","strokeWidth":1},
"axis":{"domain":false,"grid":false,"tickColor":"#555","tickWidth":1,"labelFontSize":11,"labelColor":"#111","titleFontSize":11.5,"titleFontWeight":"normal","titleColor":"#111","labelPadding":2},
"axisX":{"titlePadding":1,"labelPadding":0},
"axisY":{"titlePadding":3},
"title":{"fontSize":10,"fontWeight":"bold","anchor":"start","frame":"group","dx":-36,"offset":1,"baseline":"alphabetic","color":"#111"},
"legend":{"orient":"top-right","offset":2,"padding":4,"titleFontSize":10.5,"titleFontWeight":"normal","titleColor":"#222","titlePadding":0,"labelFontSize":11,"symbolType":"M-2.5,0H2.5","symbolSize":64,"symbolStrokeWidth":2.5,"symbolOffset":24,"labelOffset":11,"rowPadding":-2,
"labelColor":{"expr":"datum.value == 1 ? '#2E3A94' : datum.value == 2 ? '#EF4136' : datum.value == 3 ? '#1BA3DE' : datum.value == 4 ? '#F7941D' : '#62CFF0'"}}
}
}
